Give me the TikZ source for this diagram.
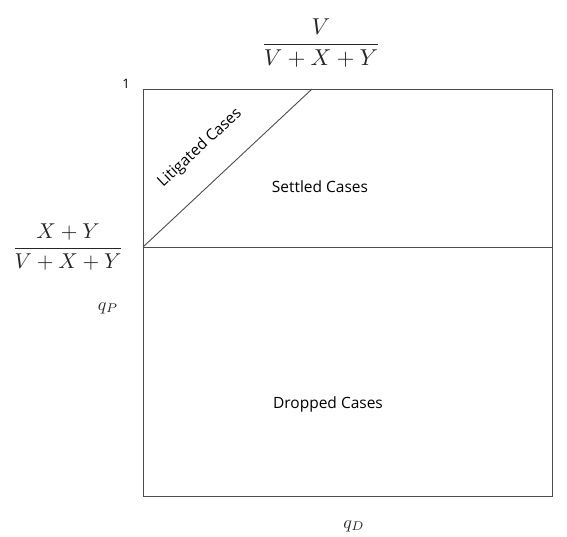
\documentclass[tikz,border=0pt]{standalone}
\usepackage{fontspec}
\usepackage{amsmath}
\setsansfont{Open Sans}
\begin{document}
\begin{tikzpicture}[x=1pt,y=-1pt,
  boxline/.style={draw=black!70,line width=0.9pt},
  lab/.style={font=\sffamily\fontsize{15.5}{18}\selectfont,inner sep=0pt},
  mlab/.style={inner sep=0pt,text=black!85}]
\useasboundingbox (0,0) rectangle (567,536);
\coordinate (tl) at (143,89);
\coordinate (tr) at (552,89);
\coordinate (bl) at (143,496);
\coordinate (br) at (552,496);
\coordinate (ml) at (143,247);
\coordinate (mr) at (552,247);
\coordinate (dt) at (312,89);
\draw[boxline] (tl) -- (tr) -- (br) -- (bl) -- cycle;
\draw[boxline] (ml) -- (mr);
\draw[boxline] (ml) -- (dt);
\node[lab,font=\sffamily\fontsize{13}{15}\selectfont] (one) at (126,84) {1};
\node[mlab,scale=2.3] (topfrac) at (321,43) {$\dfrac{V}{V+X+Y}$};
\node[mlab,scale=2.15] (leftfrac) at (68,247) {$\dfrac{X+Y}{V+X+Y}$};
\node[mlab,scale=1.8] (qp) at (108,308) {$q_P$};
\node[mlab,scale=1.8] (qd) at (354,526) {$q_D$};
\node[lab] (settled) at (320,187) {Settled Cases};
\node[lab] (dropped) at (328,404) {Dropped Cases};
\node[lab,rotate=43] (litig) at (200,148) {Litigated Cases};
\end{tikzpicture}
\end{document}
